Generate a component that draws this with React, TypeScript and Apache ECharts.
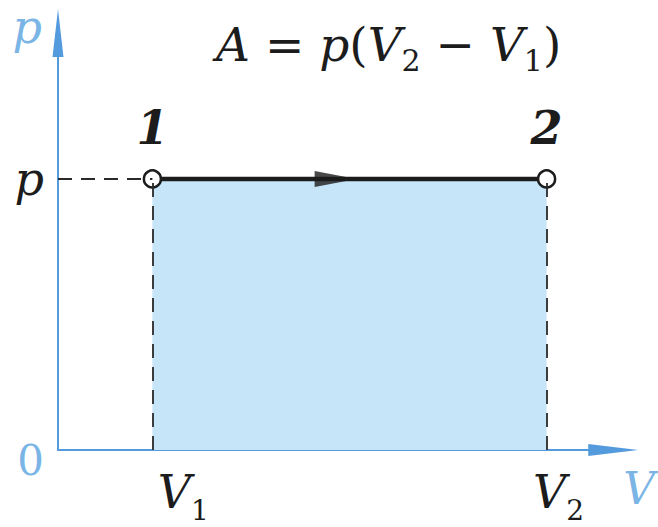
import React, { useEffect, useRef } from 'react';
import * as echarts from 'echarts';

// Isobaric expansion on a p–V diagram
const volumes = [1.7, 8.8]; // V1, V2
const pressure = 6.5; // p
const stateNames = ['1', '2'];
const volumeSubscripts = ['1', '2'];
const flowArrowAt = [5.0]; // direction marker along the isobar
const axisRange = [0, 10];
const formulaParts = ['A', '=', 'p', '(', 'V', '2', '−', 'V', '1', ')'];

const AXIS_BLUE = '#549bde';
const LABEL_BLUE = '#7ab5e6';
const FILL = '#c6e5f8';
const INK = '#1c1c1c';
const FONT = '"DejaVu Serif", serif';

export default function App() {
  const ref = useRef<HTMLDivElement>(null);

  useEffect(() => {
    if (!ref.current) return;
    const chart = echarts.init(ref.current, null, { renderer: 'svg' });
    const [v1, v2] = volumes;
    const f = formulaParts;
    const formula =
      `{i|${f[0]}}{u| ${f[1]} }{i|${f[2]}}{u|${f[3]}}{i|${f[4]}}{s|${f[5]}}` +
      `{u| ${f[6]} }{i|${f[7]}}{s|${f[8]}}{u|${f[9]}}`;

    chart.setOption({
      animation: false,
      backgroundColor: '#ffffff',
      title: {
        left: 216,
        top: 13,
        padding: 0,
        text: formula,
        textStyle: {
          fontWeight: 'normal',
          rich: {
            i: { fontFamily: FONT, fontStyle: 'italic', fontWeight: 'normal', fontSize: 47, color: INK, lineHeight: 62 },
            u: { fontFamily: FONT, fontWeight: 'normal', fontSize: 47, color: INK, lineHeight: 62 },
            s: { fontFamily: FONT, fontWeight: 'normal', fontSize: 30, color: INK, lineHeight: 30, verticalAlign: 'bottom' },
          },
        },
      },
      grid: { left: 58, right: 41, top: 33, bottom: 77 },
      xAxis: {
        type: 'value',
        min: axisRange[0],
        max: axisRange[1],
        name: '{n|V}',
        nameLocation: 'end',
        nameGap: 10,
        nameTextStyle: {
          verticalAlign: 'top',
          rich: {
            n: {
              color: LABEL_BLUE,
              fontFamily: FONT,
              fontStyle: 'italic',
              fontSize: 44,
              lineHeight: 46,
              padding: [30, 0, 0, 0],
            },
          },
        },
        axisLine: {
          show: true,
          symbol: ['none', 'triangle'],
          symbolSize: [12, 50],
          lineStyle: { color: AXIS_BLUE, width: 2 },
        },
        axisTick: { show: false },
        splitLine: { show: false },
        axisLabel: {
          customValues: volumes,
          margin: 19,
          verticalAlign: 'top',
          formatter: (value: number) => {
            const i = volumes.indexOf(value);
            return `{${i === 0 ? 'a' : 'b'}|V}{s|${volumeSubscripts[i]}}`;
          },
          rich: {
            a: {
              fontFamily: FONT, fontStyle: 'italic', fontSize: 46, color: INK,
              lineHeight: 40, verticalAlign: 'top', padding: [0, 0, 0, 62],
            },
            b: {
              fontFamily: FONT, fontStyle: 'italic', fontSize: 46, color: INK,
              lineHeight: 40, verticalAlign: 'top', padding: [0, 0, 0, 24],
            },
            s: { fontFamily: FONT, fontSize: 28, color: INK, lineHeight: 55, verticalAlign: 'bottom' },
          },
        },
      },
      yAxis: {
        type: 'value',
        min: axisRange[0],
        max: axisRange[1],
        name: 'p',
        nameLocation: 'end',
        nameGap: 6,
        nameTextStyle: {
          color: LABEL_BLUE,
          fontFamily: FONT,
          fontStyle: 'italic',
          fontSize: 46,
          align: 'right',
          verticalAlign: 'middle',
          padding: [0, 16, 0, 0],
        },
        axisLine: {
          show: true,
          symbol: ['none', 'triangle'],
          symbolSize: [11, 48],
          lineStyle: { color: AXIS_BLUE, width: 2 },
        },
        axisTick: { show: false },
        splitLine: { show: false },
        axisLabel: {
          customValues: [axisRange[0], pressure],
          margin: 14,
          formatter: (value: number) => (value === axisRange[0] ? '{o|0}' : '{p|p}'),
          rich: {
            o: { fontFamily: FONT, fontSize: 42, color: LABEL_BLUE, padding: [20, 0, 0, 0] },
            p: { fontFamily: FONT, fontStyle: 'italic', fontSize: 46, color: INK },
          },
        },
      },
      series: [
        {
          type: 'line',
          z: 3,
          data: volumes.map((v, i) => ({ value: [v, pressure], name: stateNames[i] })),
          symbol: 'circle',
          symbolSize: 17,
          itemStyle: { color: '#ffffff', borderColor: INK, borderWidth: 2.5 },
          lineStyle: { color: INK, width: 4.5 },
          areaStyle: { color: FILL, opacity: 1 },
          label: {
            show: true,
            position: 'top',
            distance: 18,
            formatter: '{b}',
            color: INK,
            fontFamily: FONT,
            fontStyle: 'italic',
            fontWeight: 'bold',
            fontSize: 46,
          },
          emphasis: { disabled: true },
          markLine: {
            silent: true,
            symbol: ['none', 'none'],
            label: { show: false },
            lineStyle: { type: [14, 9], color: '#2a2a2a', width: 1.8 },
            emphasis: { disabled: true },
            data: [
              [{ coord: [axisRange[0], pressure] }, { coord: [v1, pressure] }],
              [{ coord: [v1, axisRange[0]] }, { coord: [v1, pressure] }],
              [{ coord: [v2, axisRange[0]] }, { coord: [v2, pressure] }],
            ],
          },
        },
        {
          type: 'scatter',
          z: 5,
          data: flowArrowAt.map((v) => [v, pressure]),
          symbol: 'triangle',
          symbolSize: [16, 42],
          symbolRotate: -90,
          itemStyle: { color: INK },
          emphasis: { disabled: true },
        },
      ],
    });

    return () => chart.dispose();
  }, []);

  return (
    <div
      ref={ref}
      style={{ position: 'absolute', left: 0, top: 0, width: 658, height: 527 }}
    />
  );
}
